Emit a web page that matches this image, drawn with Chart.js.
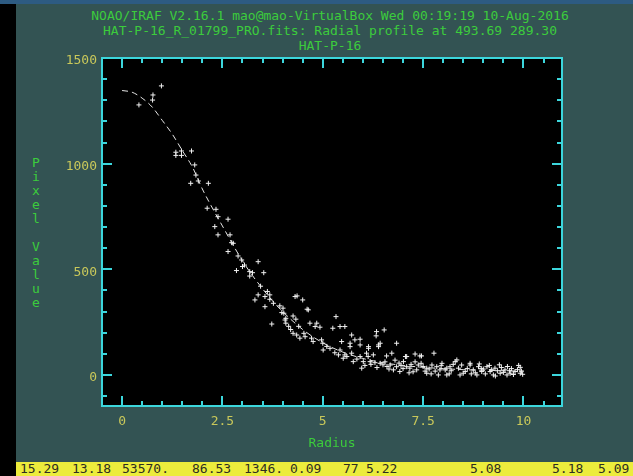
<!DOCTYPE html>
<html><head><meta charset="utf-8">
<script src="https://cdn.jsdelivr.net/npm/chart.js@4"></script>
<style>
html,body{margin:0;padding:0;width:633px;height:476px;overflow:hidden;background:#335353;}
#topbar{position:absolute;left:0;top:0;width:633px;height:4px;background:#2d5b82;}
#leftbar{position:absolute;left:0;top:4px;width:16px;height:472px;background:#000;}
#hdr{position:absolute;left:0;top:8px;width:660px;text-align:center;color:#3ccc3c;font:13px "DejaVu Sans Mono",monospace;line-height:15px;white-space:pre;}
#ylab{position:absolute;left:29px;top:156px;width:14px;text-align:center;color:#3ccc3c;font:13px "DejaVu Sans Mono",monospace;line-height:14px;}
#status{position:absolute;left:16px;top:462px;width:617px;height:14px;background:#ecec3c;overflow:hidden;}
#status span{position:absolute;top:0;font:13px "DejaVu Sans Mono",monospace;line-height:14px;color:#2e2e20;}
canvas{position:absolute;left:0;top:0;}
</style></head>
<body>
<div id="topbar"></div>
<div id="leftbar"></div>
<div id="hdr">NOAO/IRAF V2.16.1 mao@mao-VirtualBox Wed 00:19:19 10-Aug-2016
HAT-P-16_R_01799_PRO.fits: Radial profile at 493.69 289.30
HAT-P-16</div>
<div id="ylab">P<br>i<br>x<br>e<br>l<br>&nbsp;<br>V<br>a<br>l<br>u<br>e</div>
<div id="status"></div>
<canvas id="c" width="633" height="476"></canvas>
<script>
// ---- data ----
const radius = [
0.42,0.76,0.77,0.98,1.34,1.34,1.48,1.48,1.73,1.81,1.84,1.90,1.71,2.15,2.12,
2.34,2.39,2.64,2.31,2.39,2.69,2.73,2.77,2.64,2.89,2.98,3.39,3.00,2.85,3.18,3.25,3.53,3.18,
3.39,3.56,3.68,3.68,3.31,3.77,3.56,3.93,4.01,3.98,4.08,4.08,3.73,3.05,3.45,3.62,
4.31,4.36,4.50,4.03,4.06,4.26,4.33,4.61,4.64,4.68,4.85,4.93,4.81,5.33,5.55,5.43,5.25,
4.26,4.35,4.53,4.56,4.43,4.72,4.97,5.00,4.76,5.01,5.18,5.43,5.39,5.47,5.72,5.80,5.93,
5.68,5.93,5.72,5.93,6.01,5.76,5.51,6.13,5.97,5.60,5.68,6.14,6.39,4.15,4.20,4.40,5.10,5.30,5.55,5.85,
6.34,6.53,6.33,6.84,6.43,6.39,6.14,6.09,6.26,6.59,6.72,7.09,7.30,7.42,7.46,7.77,7.06,
6.18,6.43,6.68,6.84,6.76,7.09,7.17,7.34,7.38,7.59,7.72,7.84,7.92,8.09,7.59,7.01,6.92,7.88,
6.30,6.50,6.60,6.95,7.00,7.20,7.50,7.65,7.80,6.20,6.55,6.90,7.25,7.45,7.95,6.05,6.35,6.65,
7.15,7.55,7.70,6.80,7.30,
7.97,8.05,8.17,8.30,8.38,8.46,8.55,8.67,8.75,8.88,8.96,9.09,9.17,9.29,9.42,9.54,9.67,9.79,
9.92,9.92,8.09,8.42,8.84,9.25,9.59,8.34,8.67,8.20,8.60,8.80,9.00,9.35,9.50,9.70,9.85,9.95,
8.50,9.15,9.60,8.90,9.45,9.05,9.75,8.25,8.70,9.98,9.30,8.15,8.95,9.20,9.65,9.88,9.40
];
const pixelValue = [
1278,1301,1325,1368,1054,1039,1060,1039,1060,994,946,918,907,907,789,
784,749,737,702,663,663,626,623,584,563,544,536,513,494,489,484,484,468,
379,371,379,358,355,339,323,327,316,295,268,245,241,520,420,395,
371,374,355,292,260,279,264,311,308,245,245,226,229,276,229,229,221,
197,189,197,181,174,174,166,150,158,118,126,118,95,158,189,166,169,
150,142,103,87,63,63,79,87,32,87,134,126,142,230,215,230,135,105,95,75,
205,213,185,150,150,134,134,103,95,90,103,87,99,90,90,103,87,
63,55,47,39,24,39,32,24,47,32,47,39,24,32,8,63,16,0,
58,48,40,45,30,50,40,28,18,50,62,56,15,55,44,45,35,28,
10,18,5,70,62,
55,24,39,63,32,47,16,47,24,39,16,39,16,32,8,24,8,16,
8,36,0,0,0,0,0,71,55,20,30,10,28,20,12,30,25,18,
8,45,40,52,35,5,2,50,5,3,-5,5,30,25,20,45,48
];
// fitted profile
const curveRadius = [0,0.25,0.5,0.75,1,1.25,1.5,1.75,2,2.25,2.5,2.75,3,3.25,3.5,3.75,4,4.5,5,5.5,6,6.5,7,7.5,8,8.5,9,9.5,10];
const curveValue  = [1346,1338,1310,1268,1205,1140,1062,985,880,790,705,620,540,470,408,350,300,215,152,108,78,58,45,36,30,25,22,20,18];
const xTickLabels = [0,2.5,5,7.5,10];
const yTickLabels = [0,500,1000,1500];
const statusTexts = ['15.29','13.18','53570.','86.53','1346.','0.09','77','5.22','5.08','5.18','5.09'];
const statusX =     [20,72,122,192,244,290,343,366,470,552,598];

const st = document.getElementById('status');
statusTexts.forEach((t,i)=>{const s=document.createElement('span');s.textContent=t;s.style.left=(statusX[i]-16)+'px';st.appendChild(s);});

const CYAN='#3cd6dc', YEL='#c9c85a', GRN='#3ccc3c';
const FONT={family:'"DejaVu Sans Mono", monospace', size:13};

const frame = {
  id:'frame',
  beforeDraw(c){const a=c.chartArea,g=c.ctx;g.save();g.fillStyle='#000';g.fillRect(a.left,a.top,a.right-a.left,a.bottom-a.top);g.restore();},
  afterDraw(c){
    const a=c.chartArea,g=c.ctx,xs=c.scales.x,ys=c.scales.y;
    g.save();g.strokeStyle=CYAN;g.lineWidth=2;
    g.strokeRect(a.left,a.top,a.right-a.left,a.bottom-a.top);
    g.beginPath();
    for(let k=-1;k<=22;k++){const v=k*0.5;const p=Math.round(xs.getPixelForValue(v));
      if(p<=a.left+1||p>=a.right-1)continue;const L=(k%5===0)?10:5;
      g.moveTo(p,a.bottom);g.lineTo(p,a.bottom-L);g.moveTo(p,a.top);g.lineTo(p,a.top+L);}
    for(let k=-1;k<=15;k++){const v=k*100;const p=Math.round(ys.getPixelForValue(v));
      if(p<=a.top+1||p>=a.bottom-1)continue;const L=(k%5===0)?10:5;
      g.moveTo(a.left,p);g.lineTo(a.left+L,p);g.moveTo(a.right,p);g.lineTo(a.right-L,p);}
    g.stroke();g.restore();
  }
};

new Chart(document.getElementById('c'),{
  type:'scatter',
  data:{datasets:[
    {label:'fit',data:curveRadius.map((r,i)=>({x:r,y:curveValue[i]})),showLine:true,borderColor:'#e6e6e6',borderWidth:1,borderDash:[6,4],pointRadius:0,cubicInterpolationMode:'monotone',fill:false},
    {label:'pixels',data:radius.map((r,i)=>({x:r,y:pixelValue[i]})),showLine:false,pointStyle:'cross',pointRadius:2.5,borderWidth:1,borderColor:'#f2f2f2',backgroundColor:'#f2f2f2'}
  ]},
  options:{
    responsive:false,animation:false,devicePixelRatio:1,
    layout:{padding:{left:42,right:71,top:58,bottom:20}},
    plugins:{legend:{display:false},tooltip:{enabled:false},title:{display:false}},
    scales:{
      x:{type:'linear',min:-0.5,max:10.96,
        afterBuildTicks:s=>{s.ticks=xTickLabels.map(v=>({value:v}));},
        afterFit:s=>{s.height=50;},
        grid:{display:false,drawTicks:false},border:{display:false},
        ticks:{color:YEL,font:FONT,padding:8,maxRotation:0,autoSkip:false,callback:v=>String(v)},
        title:{display:true,text:'Radius',color:GRN,font:FONT,padding:{top:0,bottom:5}}},
      y:{type:'linear',min:-147,max:1500,
        afterBuildTicks:s=>{s.ticks=yTickLabels.map(v=>({value:v}));},
        afterFit:s=>{s.width=60;},
        grid:{display:false,drawTicks:false},border:{display:false},
        ticks:{color:YEL,font:FONT,padding:5,labelOffset:3,autoSkip:false,callback:v=>String(v)}}
    }
  },
  plugins:[frame]
});
</script>
</body></html>
